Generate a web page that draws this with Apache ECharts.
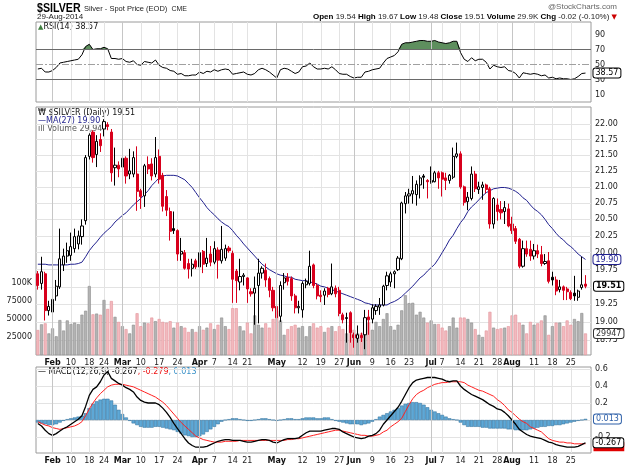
<!DOCTYPE html>
<html><head><meta charset="utf-8">
<script src="https://cdn.jsdelivr.net/npm/echarts@6.0.0/dist/echarts.min.js"></script>
<style>html,body{margin:0;padding:0;background:#fff;}#chart{width:625px;height:465px;}</style>
</head><body><div id="chart"></div>
<script>
const dates = ['1/28','1/29','1/30','1/31',
'2/3','2/4','2/5','2/6','2/7','2/10','2/11','2/12','2/13','2/14','2/18','2/19','2/20','2/21','2/24','2/25','2/26','2/27','2/28',
'3/3','3/4','3/5','3/6','3/7','3/10','3/11','3/12','3/13','3/14','3/17','3/18','3/19','3/20','3/21','3/24','3/25','3/26','3/27','3/28','3/31',
'4/1','4/2','4/3','4/4','4/7','4/8','4/9','4/10','4/11','4/14','4/15','4/16','4/17','4/21','4/22','4/23','4/24','4/25','4/28','4/29','4/30',
'5/1','5/2','5/5','5/6','5/7','5/8','5/9','5/12','5/13','5/14','5/15','5/16','5/19','5/20','5/21','5/22','5/23','5/27','5/28','5/29','5/30',
'6/2','6/3','6/4','6/5','6/6','6/9','6/10','6/11','6/12','6/13','6/16','6/17','6/18','6/19','6/20','6/23','6/24','6/25','6/26','6/27','6/30',
'7/1','7/2','7/3','7/7','7/8','7/9','7/10','7/11','7/14','7/15','7/16','7/17','7/18','7/21','7/22','7/23','7/24','7/25','7/28','7/29','7/30','7/31',
'8/1','8/4','8/5','8/6','8/7','8/8','8/11','8/12','8/13','8/14','8/15','8/18','8/19','8/20','8/21','8/22','8/25','8/26','8/27','8/28','8/29'];

const open = [19.69,19.55,19.69,19.16,19.14,19.37,19.50,19.82,19.95,19.96,
20.06,20.13,20.24,20.48,21.48,21.87,21.51,21.75,21.92,21.99,
21.87,21.30,21.34,21.31,21.45,21.20,21.20,21.20,20.94,20.86,
21.35,21.36,21.20,21.48,21.18,20.85,20.62,20.36,20.33,19.98,
20.00,19.84,19.77,19.88,19.79,20.02,19.84,19.98,19.86,20.04,
19.88,19.92,20.07,19.99,19.73,19.57,19.65,19.63,19.43,19.41,
19.52,19.70,19.74,19.62,19.45,19.22,19.08,19.56,19.64,19.62,
19.37,19.20,19.17,19.53,19.55,19.82,19.52,19.38,19.38,19.48,
19.40,19.48,19.45,19.10,19.06,19.13,18.82,18.77,18.81,18.82,
19.07,19.04,19.16,19.21,19.24,19.52,19.57,19.69,19.75,19.91,
20.74,20.86,20.89,20.88,21.03,21.17,21.10,21.07,21.08,21.22,
21.22,21.14,21.10,21.15,21.48,21.52,21.00,20.77,20.82,21.20,
20.96,20.99,21.03,20.97,20.43,20.72,20.65,20.62,20.66,20.43,
20.36,20.20,19.80,20.06,20.05,19.95,20.03,19.97,19.84,19.88,
19.64,19.60,19.46,19.50,19.47,19.42,19.41,19.35,19.49,19.54];
const high = [19.73,19.94,19.72,19.30,19.48,19.60,20.36,20.06,20.15,20.30,
20.36,20.33,20.50,21.50,21.85,21.90,21.82,21.85,22.08,22.03,
21.92,21.62,21.40,21.72,21.48,21.60,21.56,21.64,20.97,21.36,
21.48,21.45,21.79,21.59,21.22,20.95,20.68,20.62,20.35,20.22,
20.04,19.91,19.91,19.91,20.12,20.04,20.22,20.10,20.17,20.08,
20.40,20.12,20.10,20.03,19.76,19.91,19.70,19.64,19.48,19.65,
19.91,19.80,19.84,19.65,19.50,19.25,19.58,19.70,19.70,19.65,
19.40,19.30,19.58,19.62,20.03,19.84,19.55,19.45,19.48,19.50,
19.84,19.52,19.50,19.13,19.13,19.15,18.85,18.95,18.85,19.17,
19.17,19.25,19.25,19.34,19.53,19.72,19.72,19.74,19.95,20.77,
20.92,20.97,21.17,21.10,21.18,21.20,21.12,21.32,21.25,21.25,
21.24,21.22,21.20,21.62,21.70,21.56,21.02,20.92,21.32,21.25,
21.08,21.08,21.05,21.00,20.84,20.82,20.78,20.78,20.74,20.54,
20.40,20.22,20.18,20.18,20.18,20.13,20.12,20.10,19.98,20.01,
19.72,19.65,19.60,19.52,19.50,19.45,19.66,19.46,19.94,19.67];
const low = [19.46,19.46,19.02,19.09,19.09,19.30,19.47,19.73,19.85,19.88,
20.00,20.05,20.12,20.42,21.43,21.38,21.31,21.55,21.80,21.90,
21.08,21.02,21.15,21.08,21.05,21.12,21.15,20.63,20.66,20.69,
21.20,21.10,21.15,21.05,20.62,20.55,20.18,20.28,19.88,19.88,
19.75,19.62,19.65,19.76,19.75,19.70,19.79,19.80,19.83,19.62,
19.84,19.88,20.00,19.27,19.27,19.45,19.52,19.27,19.36,18.96,
18.98,19.62,19.50,19.35,19.15,18.71,19.00,19.46,19.52,19.30,
19.12,19.12,19.06,19.48,19.52,19.48,19.32,19.28,19.24,19.35,
19.38,19.35,19.08,18.98,18.71,18.71,18.64,18.71,18.72,18.62,
18.82,18.98,19.10,19.10,19.22,19.45,19.50,19.48,19.73,19.89,
20.59,20.74,20.74,20.71,20.82,20.97,20.82,21.05,21.07,20.97,
20.85,20.95,21.05,21.12,21.45,20.97,20.71,20.64,20.79,20.92,
20.89,20.80,20.90,20.36,20.36,20.48,20.50,20.43,20.38,20.28,
20.13,19.77,19.78,19.94,19.88,19.90,19.92,19.80,19.82,19.55,
19.52,19.38,19.42,19.31,19.31,19.31,19.30,19.30,19.46,19.48];
const close = [19.52,19.72,19.16,19.22,19.32,19.51,19.91,19.95,20.03,20.09,
20.24,20.25,20.40,21.46,21.82,21.46,21.72,21.65,22.04,21.96,
21.22,21.34,21.28,21.45,21.17,21.25,21.46,20.93,20.85,21.33,
21.28,21.17,21.46,21.12,20.70,20.64,20.32,20.33,19.98,20.02,
19.77,19.76,19.83,19.79,20.00,19.83,19.92,19.86,20.06,19.89,
20.05,20.06,20.03,19.61,19.59,19.65,19.67,19.47,19.40,19.48,
19.70,19.77,19.60,19.45,19.20,19.06,19.52,19.63,19.58,19.37,
19.20,19.22,19.55,19.58,19.80,19.52,19.37,19.36,19.44,19.39,
19.50,19.40,19.12,19.03,19.05,18.85,18.78,18.82,18.78,19.06,
19.03,19.20,19.22,19.24,19.51,19.66,19.69,19.72,19.92,20.75,
20.86,20.89,20.94,21.04,21.14,21.15,21.08,21.10,21.22,21.14,
21.12,21.10,21.18,21.48,21.52,21.00,20.76,20.84,21.20,20.97,
21.00,21.03,20.96,20.43,20.82,20.62,20.60,20.68,20.40,20.33,
20.17,19.80,20.06,19.98,19.95,20.03,19.98,19.84,19.87,19.58,
19.60,19.44,19.50,19.45,19.43,19.33,19.37,19.44,19.53,19.51];
const volume = [34700,42600,44000,30000,37000,26000,48500,34000,48000,43000,
45000,43000,56000,61500,95800,56500,57500,56000,76400,64000,
75000,53000,46000,40000,36000,30000,42000,58000,40000,45000,
44000,52000,47000,50000,46000,45000,47000,38000,45000,40000,
38000,32000,36000,32000,40000,35000,38000,44000,36000,42000,
52000,40000,36000,65000,65000,40000,34000,45000,30000,55000,
42000,38000,44000,38000,50000,62000,48000,28000,36000,40000,
42000,38000,40000,26000,40000,44000,38000,40000,32000,38000,
40000,33000,40000,36000,30000,42000,35000,30000,30000,42000,
45000,35000,46000,40000,50000,58000,40000,35000,42000,62000,
83000,72000,72500,56000,60000,52000,45000,48000,43000,43000,
38000,34000,40000,52000,38000,52000,52000,50000,45000,36000,
28000,25000,34000,60000,38000,36000,37000,38000,40000,55000,
56000,45000,42000,30000,46000,42000,44000,48000,55000,28000,
40000,45000,45000,40000,48000,42000,50000,47000,58300,29947];
const ma27 = [19.83,19.83,19.83,19.82,19.82,19.82,19.82,19.82,19.82,19.83,
19.83,19.84,19.86,19.94,20.03,20.10,20.16,20.23,20.29,20.34,
20.39,20.46,20.51,20.56,20.60,20.66,20.72,20.77,20.82,20.88,
20.94,21.02,21.08,21.14,21.17,21.18,21.18,21.18,21.17,21.14,
21.11,21.05,20.99,20.91,20.83,20.76,20.68,20.62,20.57,20.51,
20.46,20.42,20.39,20.33,20.26,20.20,20.13,20.07,20.01,19.95,
19.89,19.83,19.79,19.75,19.72,19.69,19.67,19.66,19.64,19.64,
19.61,19.60,19.59,19.59,19.57,19.56,19.54,19.51,19.50,19.48,
19.46,19.44,19.42,19.40,19.38,19.36,19.34,19.32,19.30,19.27,
19.26,19.24,19.24,19.24,19.24,19.24,19.27,19.29,19.32,19.36,
19.41,19.46,19.51,19.57,19.63,19.67,19.73,19.78,19.83,19.91,
20.00,20.09,20.19,20.26,20.36,20.45,20.52,20.62,20.69,20.74,
20.80,20.86,20.91,20.94,20.97,20.98,20.99,20.99,20.98,20.96,
20.93,20.89,20.83,20.79,20.72,20.66,20.62,20.57,20.50,20.42,
20.36,20.29,20.23,20.19,20.13,20.09,20.04,19.98,19.94,19.90];
const rsi14 = [44,45,40,40,42,46,52,53,54,55,
56,57,63,74,77,70,71,71,73,71,
58,58,57,58,54,53,55,50,49,54,
53,52,56,49,46,45,42,41,37,38,
35,35,36,36,40,38,41,40,43,41,
43,44,43,37,38,39,40,37,36,38,
43,45,43,40,36,32,43,45,44,41,
38,40,47,48,52,47,44,44,45,44,
47,43,38,37,37,34,32,33,33,40,
41,43,44,45,52,58,60,62,67,77,
79,79,80,81,82,82,81,81,82,80,
79,78,79,81,81,66,57,54,59,55,
57,57,53,44,49,47,46,47,42,41,
38,32,39,38,37,38,37,35,36,32,
33,31,32,31,31,30,31,34,38,38.57];
const macdLine = [-0.04,-0.07,-0.12,-0.16,-0.18,-0.16,-0.13,-0.10,-0.08,-0.05,
-0.02,0.01,0.05,0.16,0.29,0.36,0.39,0.45,0.53,0.57,
0.49,0.46,0.43,0.41,0.38,0.36,0.33,0.27,0.23,0.21,
0.20,0.20,0.20,0.18,0.14,0.09,0.03,-0.04,-0.10,-0.16,
-0.22,-0.27,-0.30,-0.32,-0.32,-0.32,-0.31,-0.29,-0.27,-0.25,
-0.24,-0.23,-0.23,-0.24,-0.24,-0.24,-0.25,-0.26,-0.26,-0.25,
-0.24,-0.23,-0.23,-0.24,-0.26,-0.27,-0.25,-0.23,-0.22,-0.22,
-0.22,-0.21,-0.18,-0.15,-0.13,-0.13,-0.13,-0.13,-0.12,-0.11,
-0.10,-0.10,-0.11,-0.14,-0.16,-0.18,-0.20,-0.21,-0.22,-0.21,
-0.19,-0.18,-0.16,-0.12,-0.05,0.00,0.05,0.10,0.15,0.22,
0.30,0.38,0.44,0.47,0.48,0.49,0.50,0.50,0.50,0.49,
0.48,0.46,0.45,0.46,0.46,0.40,0.36,0.33,0.30,0.28,
0.26,0.24,0.21,0.18,0.16,0.13,0.12,0.09,0.05,0.00,
-0.05,-0.11,-0.14,-0.17,-0.19,-0.20,-0.21,-0.22,-0.24,-0.26,
-0.27,-0.29,-0.30,-0.31,-0.32,-0.32,-0.32,-0.31,-0.29,-0.267];
const signalLine = [-0.02,-0.04,-0.06,-0.07,-0.09,-0.10,-0.11,-0.10,-0.09,-0.08,
-0.07,-0.05,-0.02,0.05,0.13,0.20,0.26,0.31,0.35,0.39,
0.41,0.42,0.42,0.42,0.41,0.40,0.39,0.37,0.35,0.33,
0.31,0.29,0.27,0.24,0.21,0.17,0.12,0.07,0.02,-0.03,
-0.07,-0.11,-0.15,-0.19,-0.21,-0.23,-0.24,-0.25,-0.26,-0.26,
-0.26,-0.25,-0.25,-0.25,-0.25,-0.24,-0.24,-0.24,-0.24,-0.24,
-0.24,-0.24,-0.24,-0.24,-0.24,-0.24,-0.24,-0.24,-0.23,-0.23,
-0.22,-0.22,-0.21,-0.20,-0.19,-0.18,-0.17,-0.16,-0.15,-0.14,
-0.13,-0.12,-0.12,-0.13,-0.14,-0.15,-0.16,-0.17,-0.18,-0.18,
-0.19,-0.19,-0.18,-0.17,-0.14,-0.12,-0.08,-0.05,-0.02,0.02,
0.10,0.18,0.25,0.30,0.33,0.35,0.38,0.40,0.42,0.43,
0.44,0.44,0.45,0.45,0.45,0.45,0.44,0.41,0.39,0.37,
0.35,0.34,0.32,0.30,0.28,0.24,0.21,0.17,0.12,0.09,
0.05,0.01,-0.02,-0.04,-0.08,-0.10,-0.12,-0.14,-0.18,-0.22,
-0.24,-0.25,-0.26,-0.26,-0.27,-0.27,-0.28,-0.28,-0.28,-0.279];
const histogram = [-0.03,-0.04,-0.05,-0.06,-0.06,-0.05,-0.03,-0.01,0.01,0.02,
0.03,0.04,0.05,0.08,0.14,0.19,0.22,0.24,0.25,0.25,
0.23,0.18,0.12,0.07,0.03,-0.01,-0.04,-0.06,-0.08,-0.09,
-0.09,-0.09,-0.08,-0.08,-0.09,-0.10,-0.11,-0.12,-0.14,-0.16,
-0.18,-0.19,-0.20,-0.20,-0.19,-0.17,-0.14,-0.11,-0.08,-0.05,
-0.02,0.00,0.01,0.02,0.02,0.01,0.00,-0.01,-0.01,0.00,
0.01,0.02,0.02,0.01,0.00,-0.01,0.00,0.01,0.02,0.02,
0.01,0.01,0.02,0.03,0.03,0.03,0.02,0.02,0.03,0.03,
0.01,-0.01,-0.02,-0.03,-0.04,-0.05,-0.05,-0.05,-0.06,-0.05,
-0.04,-0.02,0.01,0.04,0.06,0.08,0.10,0.12,0.14,0.17,
0.19,0.20,0.21,0.21,0.20,0.18,0.15,0.12,0.10,0.08,
0.06,0.04,0.02,0.01,0.00,-0.03,-0.06,-0.08,-0.08,-0.08,
-0.08,-0.09,-0.09,-0.10,-0.10,-0.10,-0.10,-0.10,-0.11,-0.11,
-0.12,-0.12,-0.12,-0.12,-0.11,-0.10,-0.09,-0.08,-0.08,-0.07,
-0.07,-0.06,-0.06,-0.05,-0.04,-0.03,-0.02,-0.01,0.00,0.013];

const priceTicks = [18.75,19.00,19.25,19.50,19.75,20.00,20.25,20.50,20.75,21.00,21.25,21.50,21.75,22.00];
const volumeTicks = [25000,50000,75000,100000];
const rsiTicks = [10,30,50,70,90];
const macdTicks = [-0.2,0,0.2,0.4,0.6];
const tickDates = ['2/3','2/10','2/18','2/24','3/3','3/10','3/17','3/24','4/1','4/7','4/14','4/21','5/1','5/12','5/19','5/27','6/2','6/9','6/16','6/23','7/1','7/7','7/14','7/21','7/28','8/1','8/11','8/18','8/25'];
const tickTexts = ['Feb','10','18','24','Mar','10','17','24','Apr','7','14','21','May','12','19','27','Jun','9','16','23','Jul','7','14','21','28','Aug','11','18','25'];
const monthDates = ['2/3','3/3','4/1','5/1','6/2','7/1','8/1'];

const L = Math.log;
const FONT = '"DejaVu Sans", Verdana, sans-serif';
const SANS = '"Liberation Sans", Arial, sans-serif';
const RED = '#d8001c', BLK = '#000000';
const last = close.length - 1;
const tickMap = new Map(tickDates.map((d, i) => [d, tickTexts[i]]));
const monthSet = new Set(monthDates);
const cats = dates.concat(['']);

const candleData = close.map((c, i) => {
  const prev = i > 0 ? close[i - 1] : open[i];
  const col = c >= prev ? BLK : RED;
  const fill = c > open[i] ? '#ffffff' : col;
  return { value: [L(open[i]), L(c), L(low[i]), L(high[i])],
    itemStyle: { color: fill, color0: fill, borderColor: col, borderColor0: col, borderWidth: 1 } };
});
const volData = volume.map((v, i) => {
  const up = i === 0 ? close[0] >= open[0] : close[i] >= close[i - 1];
  return { value: v, itemStyle: up ? { color: '#b3b3b3', borderColor: '#8c8c8c', borderWidth: 0.6 }
                                    : { color: '#f3b9be', borderColor: '#e2939b', borderWidth: 0.6 } };
});
const rsiFill = rsi14.map(v => Math.max(v, 70));

const monthLines = {
  silent: true, symbol: ['none', 'none'], animation: false,
  label: { show: false },
  lineStyle: { color: '#c6c6c6', width: 1, type: 'solid' },
  data: monthDates.map(d => ({ xAxis: d }))
};

function xAxis(gi, showLabels) {
  return {
    type: 'category', gridIndex: gi, data: cats, boundaryGap: true,
    axisLine: { show: false }, axisTick: { show: false },
    axisLabel: {
      show: showLabels, margin: 4, interval: (i, v) => tickMap.has(v),
      formatter: v => monthSet.has(v) ? '{m|' + tickMap.get(v) + '}' : '{d|' + tickMap.get(v) + '}',
      rich: { m: { fontFamily: FONT, fontSize: 8, fontWeight: 'bold', color: '#111' },
              d: { fontFamily: FONT, fontSize: 8, color: '#222' } }
    },
    splitLine: { show: true, alignWithLabel: true, interval: (i, v) => tickMap.has(v), lineStyle: { color: '#e3e3e3', width: 1 } }
  };
}
const axLbl = { fontFamily: FONT, fontSize: 8, color: '#222', margin: 4 };
const boxLbl = (txt, col, bold) => ({
  show: true, formatter: txt, fontFamily: FONT, fontSize: 8, fontWeight: bold ? 'bold' : 'normal',
  color: col, backgroundColor: '#ffffff', borderColor: col, borderWidth: 1, borderRadius: 2,
  padding: [1, 2, 0, 2]
});

const chart = echarts.init(document.getElementById('chart'), null, { renderer: 'canvas' });
chart.setOption({
  animation: false,
  backgroundColor: '#ffffff',
  grid: [
    { left: 36, right: 34, top: 22, height: 80, show: true, borderColor: '#9a9a9a', borderWidth: 1, backgroundColor: 'transparent' },
    { left: 36, right: 34, top: 107, height: 248, show: true, borderColor: '#9a9a9a', borderWidth: 1, backgroundColor: 'transparent' },
    { left: 36, right: 34, top: 367, height: 86, show: true, borderColor: '#9a9a9a', borderWidth: 1, backgroundColor: 'transparent' }
  ],
  xAxis: [xAxis(0, false), xAxis(1, true), xAxis(2, true)],
  yAxis: [
    { type: 'value', gridIndex: 0, position: 'right', min: 0, max: 106.7,
      axisLine: { show: false }, axisTick: { show: false, customValues: rsiTicks },
      axisLabel: Object.assign({ customValues: rsiTicks }, axLbl),
      splitLine: { show: false } },
    { type: 'value', gridIndex: 1, position: 'right', min: L(18.54), max: L(22.28),
      axisLine: { show: false }, axisTick: { show: false, customValues: priceTicks.map(L) },
      axisLabel: Object.assign({ customValues: priceTicks.map(L), formatter: v => Math.exp(v).toFixed(2) }, axLbl),
      splitLine: { show: true, lineStyle: { color: '#e3e3e3' } } },
    { type: 'value', gridIndex: 1, position: 'left', min: 0, max: 344444,
      axisLine: { show: false }, axisTick: { show: false, customValues: volumeTicks },
      axisLabel: Object.assign({ customValues: volumeTicks, formatter: v => v >= 100000 ? (v / 1000) + 'K' : String(v) }, axLbl),
      splitLine: { show: false } },
    { type: 'value', gridIndex: 2, position: 'right', min: -0.388, max: 0.6235,
      axisLine: { show: false }, axisTick: { show: false, customValues: macdTicks },
      axisLabel: Object.assign({ customValues: macdTicks, formatter: v => Math.abs(v) < 1e-9 ? '' : v.toFixed(1) }, axLbl),
      splitLine: { show: true, lineStyle: { color: '#e3e3e3' } } }
  ],
  series: [
    { name: 'RSI fill', type: 'line', xAxisIndex: 0, yAxisIndex: 0, data: rsiFill, symbol: 'none', z: 1,
      lineStyle: { width: 0 }, areaStyle: { origin: 70, color: '#5e8f5e', opacity: 1 },
      markLine: monthLines },
    { name: 'RSI', type: 'line', xAxisIndex: 0, yAxisIndex: 0, data: rsi14, symbol: 'none', z: 3,
      lineStyle: { color: '#000', width: 1 },
      endLabel: Object.assign(boxLbl(rsi14[last].toFixed(2), '#000', false), { distance: 8 }),
      markLine: { silent: true, symbol: ['none', 'none'], animation: false, label: { show: false },
        data: [ { yAxis: 70, lineStyle: { color: '#6a6a6a', width: 1, type: 'solid' } },
                { yAxis: 30, lineStyle: { color: '#6a6a6a', width: 1, type: 'solid' } },
                { yAxis: 50, lineStyle: { color: '#a0a0a0', width: 1, type: [7, 2, 2, 2] } } ] } },
    { name: 'Volume', type: 'bar', xAxisIndex: 1, yAxisIndex: 2, data: volData, barCategoryGap: '18%', z: 1,
      markLine: monthLines,
      markPoint: { symbol: 'rect', symbolSize: 1, itemStyle: { color: 'transparent' }, silent: true,
        data: [{ coord: [last, volume[last]] }],
        label: Object.assign(boxLbl(String(volume[last]), '#333', false), { position: 'right', distance: 8 }) } },
    { name: 'MA(27)', type: 'line', xAxisIndex: 1, yAxisIndex: 1, data: ma27.map(L), symbol: 'none', z: 3,
      lineStyle: { color: '#22228f', width: 1 },
      endLabel: Object.assign(boxLbl(ma27[last].toFixed(2), '#22228f', false), { distance: 8 }) },
    { name: '$SILVER', type: 'candlestick', xAxisIndex: 1, yAxisIndex: 1, data: candleData, barWidth: '72%', z: 4,
      markPoint: { symbol: 'rect', symbolSize: 1, itemStyle: { color: 'transparent' }, silent: true,
        data: [{ coord: [last, L(close[last])] }],
        label: Object.assign(boxLbl(close[last].toFixed(2), '#000', true), { position: 'right', distance: 8 }) } },
    { name: 'Histogram', type: 'bar', xAxisIndex: 2, yAxisIndex: 3, data: histogram, barCategoryGap: '0%', z: 1,
      itemStyle: { color: '#5ea8d6', borderColor: '#2c6d98', borderWidth: 0.5 },
      markLine: monthLines,
      markPoint: { symbol: 'rect', symbolSize: 1, itemStyle: { color: 'transparent' }, silent: true,
        data: [{ coord: [last, histogram[last]] }],
        label: Object.assign(boxLbl(histogram[last].toFixed(3), '#2d5fa8', false), { position: 'right', distance: 8 }) } },
    { name: 'Signal', type: 'line', xAxisIndex: 2, yAxisIndex: 3, data: signalLine, symbol: 'none', z: 3,
      lineStyle: { color: '#ff2020', width: 1 },
      endLabel: { show: true, formatter: signalLine[last].toFixed(3), distance: 8, offset: [0, 3], fontFamily: FONT, fontSize: 8,
        color: '#e00000', backgroundColor: '#e00000', padding: [1, 3, 0, 2] } },
    { name: 'MACD', type: 'line', xAxisIndex: 2, yAxisIndex: 3, data: macdLine, symbol: 'none', z: 4,
      lineStyle: { color: '#000', width: 1.3 },
      endLabel: Object.assign(boxLbl(macdLine[last].toFixed(3), '#000', false), { distance: 8 }) }
  ],
  graphic: [
    { type: 'text', x: 37, y: 2, scaleX: 0.82, style: { text: '$SILVER', font: 'bold 13px ' + SANS, fill: '#000' } },
    { type: 'text', x: 84, y: 5, style: { text: 'Silver - Spot Price (EOD) {c|CME}', font: '7.5px ' + SANS, fill: '#222',
        rich: { c: { font: '7px ' + SANS, fill: '#222', padding: [1, 0, 0, 2] } } } },
    { type: 'text', x: 37, y: 13, style: { text: '29-Aug-2014', font: '8px ' + SANS, fill: '#222' } },
    { type: 'text', x: 617, y: 3, style: { text: '@StockCharts.com', align: 'right', font: '8px ' + SANS, fill: '#666' } },
    { type: 'text', x: 617, y: 13, style: { align: 'right',
        text: '{b|Open} 19.54 {b|High} 19.67 {b|Low} 19.48 {b|Close} 19.51 {b|Volume} 29.9K {b|Chg} -0.02 (-0.10%) {r|▼}',
        font: '8px ' + SANS, fill: '#222',
        rich: { b: { font: 'bold 8px ' + SANS, fill: '#000' },
                r: { font: '7px "DejaVu Sans", sans-serif', fill: '#cc0000' } } } },
    { type: 'text', x: 38, y: 23, style: { text: '{g|▲}RSI(14) 38.57', font: '8px ' + FONT, fill: '#111',
        rich: { g: { font: '7px ' + FONT, fill: '#3f7f3f' } } } },
    { type: 'text', x: 38, y: 109, style: { text: '₩ $SILVER (Daily) 19.51', font: '8px ' + FONT, fill: '#111' } },
    { type: 'text', x: 38, y: 117, style: { text: '—MA(27) 19.90', font: '8px ' + FONT, fill: '#22228f' } },
    { type: 'text', x: 38, y: 125, style: { text: 'ıll Volume 29,947', font: '8px ' + FONT, fill: '#555' } },
    { type: 'text', x: 38, y: 368, style: { text: '{k|— MACD(12,26,9) -0.267}{r|, -0.279}{b|, 0.013}', font: '8px ' + FONT,
        rich: { k: { font: '8px ' + FONT, fill: '#111' }, r: { font: '8px ' + FONT, fill: '#ee1111' }, b: { font: '8px ' + FONT, fill: '#3a91c8' } } } }
  ]
});
</script>
</body></html>
